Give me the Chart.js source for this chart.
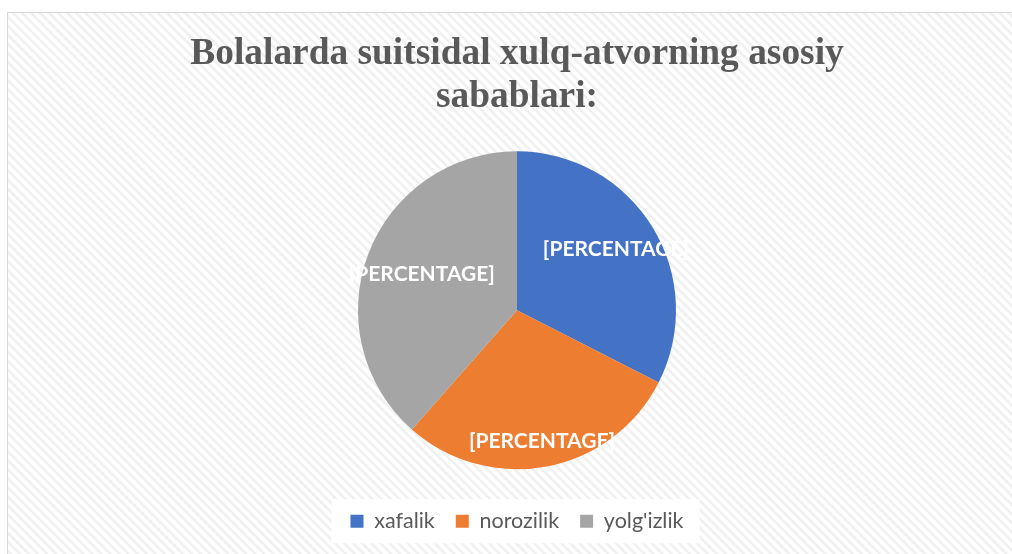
<!DOCTYPE html>
<html>
<head>
<meta charset="utf-8">
<script src="https://cdn.jsdelivr.net/npm/chart.js@4"></script>
<style>
  html, body { margin: 0; padding: 0; background: #ffffff; width: 1012px; height: 554px; overflow: hidden; }
  #frame {
    position: absolute; left: 7px; top: 12px; width: 1100px; height: 600px;
    border: 1px solid #d9d9d9; box-sizing: border-box;
    background: repeating-linear-gradient(45deg, #ffffff 0px, #ffffff 2px, #efefef 3.5px, #efefef 4.5px, #ffffff 6px, #ffffff 6.4px);
  }
  #wrap { position: absolute; left: 7px; top: 12px; width: 1020px; height: 542px; }
</style>
</head>
<body>
<div id="frame"></div>
<div id="wrap"><canvas id="c" width="1020" height="542"></canvas></div>
<script>
const titleLines = ['Bolalarda suitsidal xulq-atvorning asosiy', 'sabablari:'];
const categories = ['xafalik', 'norozilik', "yolg'izlik"];
const values = [32.5, 29, 38.5];
const sliceLabels = ['[PERCENTAGE]', '[PERCENTAGE]', '[PERCENTAGE]'];
const colors = ['#4472C4', '#ED7D31', '#A5A5A5'];
const labelRadiusFactor = [0.73, 0.84, 0.64];

const legendBg = {
  id: 'legendBg',
  beforeDraw(chart) {
    const lg = chart.legend;
    if (!lg || !lg.legendHitBoxes || !lg.legendHitBoxes.length) return;
    const hb = lg.legendHitBoxes;
    const left = hb[0].left - 19;
    const right = hb[hb.length - 1].left + hb[hb.length - 1].width + 16;
    const cy = hb[0].top + hb[0].height / 2;
    const ctx = chart.ctx;
    ctx.save();
    ctx.fillStyle = '#ffffff';
    ctx.fillRect(left, cy - 22, right - left, 44);
    ctx.restore();
  }
};

const sliceText = {
  id: 'sliceText',
  afterDatasetsDraw(chart) {
    const ctx = chart.ctx;
    const meta = chart.getDatasetMeta(0);
    ctx.save();
    ctx.font = 'bold 21px Lato';
    ctx.fillStyle = '#ffffff';
    ctx.textAlign = 'center';
    ctx.textBaseline = 'middle';
    meta.data.forEach((arc, i) => {
      const p = arc.getProps(['x', 'y', 'startAngle', 'endAngle', 'outerRadius'], true);
      const mid = (p.startAngle + p.endAngle) / 2;
      const r = p.outerRadius * labelRadiusFactor[i];
      ctx.fillText(sliceLabels[i], p.x + Math.cos(mid) * r, p.y + Math.sin(mid) * r);
    });
    ctx.restore();
  }
};

new Chart(document.getElementById('c'), {
  type: 'pie',
  data: {
    labels: categories,
    datasets: [{
      data: values,
      backgroundColor: colors,
      borderWidth: 0,
      radius: 159
    }]
  },
  options: {
    responsive: false,
    animation: false,
    layout: { padding: { bottom: 12 } },
    plugins: {
      tooltip: { enabled: false },
      title: {
        display: true,
        text: titleLines,
        color: '#595959',
        font: { family: 'Liberation Serif', size: 37.4, weight: 'bold', lineHeight: 1.15 },
        padding: { top: 21, bottom: 12 }
      },
      legend: {
        position: 'bottom',
        labels: {
          color: '#595959',
          font: { family: 'Lato', size: 21.5 },
          boxWidth: 13,
          boxHeight: 13,
          padding: 21
        }
      }
    }
  },
  plugins: [legendBg, sliceText]
});
</script>
</body>
</html>
